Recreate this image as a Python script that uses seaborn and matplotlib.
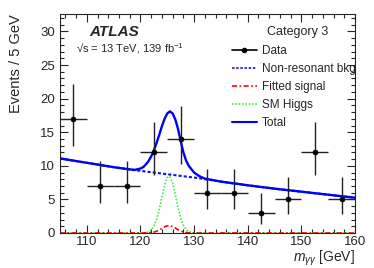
import numpy as np
import pandas as pd
import seaborn as sns
import matplotlib
matplotlib.use("Agg")
import matplotlib.pyplot as plt
from matplotlib.ticker import MultipleLocator
from matplotlib.lines import Line2D

# data points (bin centres, counts, asymmetric Poisson errors)
bin_centres = [107.5, 112.5, 117.5, 122.5, 127.5, 132.5, 137.5, 142.5, 147.5, 152.5, 157.5]
counts = [17, 7, 7, 12, 14, 6, 6, 3, 5, 12, 5]
err_down = [4.10, 2.58, 2.58, 3.41, 3.70, 2.38, 2.38, 1.63, 2.16, 3.41, 2.16]
err_up = [5.18, 3.77, 3.77, 4.58, 4.83, 3.58, 3.58, 2.92, 3.38, 4.58, 3.38]

# fitted curves
mass = [105, 110, 115, 118, 119, 120, 120.5, 121, 121.5, 122, 122.5, 123, 123.5, 124, 124.5,
        125, 125.5, 126, 126.5, 127, 127.5, 128, 128.5, 129, 129.5, 130, 131, 132, 133, 135,
        140, 145, 150, 155, 160]
bkg = [11.1, 10.45, 9.8, 9.45, 9.35, 9.25, 9.2, 9.15, 9.1, 9.05, 9.0, 8.95, 8.9, 8.85, 8.8,
       8.75, 8.7, 8.65, 8.6, 8.55, 8.5, 8.45, 8.4, 8.35, 8.3, 8.25, 8.15, 8.0, 7.9, 7.65,
       7.1, 6.6, 6.15, 5.7, 5.25]
fitted_signal = [0, 0, 0, 0, 0, 0, 0, 0.01, 0.02, 0.06, 0.13, 0.26, 0.45, 0.69, 0.92,
                 1.07, 1.09, 0.96, 0.74, 0.50, 0.29, 0.15, 0.07, 0.03, 0.01, 0, 0, 0, 0, 0,
                 0, 0, 0, 0, 0]
sm_higgs = [0, 0, 0, 0, 0, 0.01, 0.02, 0.05, 0.16, 0.43, 0.99, 1.99, 3.49, 5.35, 7.13,
            8.29, 8.41, 7.43, 5.73, 3.85, 2.25, 1.15, 0.51, 0.20, 0.07, 0.02, 0, 0, 0, 0,
            0, 0, 0, 0, 0]
total = [11.1, 10.45, 9.8, 9.47, 9.4, 9.6, 9.8, 10.2, 10.7, 11.4, 12.3, 13.4, 14.6, 15.9, 17.0,
         17.8, 18.1, 17.8, 16.9, 15.5, 13.7, 12.0, 10.8, 10.0, 9.5, 9.0, 8.45, 8.1, 7.95, 7.65,
         7.1, 6.6, 6.15, 5.7, 5.25]

df = pd.DataFrame({"mass": mass, "bkg": bkg, "signal": fitted_signal,
                   "higgs": sm_higgs, "total": total})

sns.set_style("ticks")
plt.rcParams["font.family"] = ["Liberation Sans", "DejaVu Sans"]
plt.rcParams["mathtext.fontset"] = "custom"
plt.rcParams["mathtext.it"] = "Liberation Sans:italic"
plt.rcParams["mathtext.rm"] = "Liberation Sans"

fig = plt.figure(figsize=(3.74, 2.68), dpi=100)
ax = fig.add_axes([0.1604, 0.1306, 0.7888, 0.8172])

sns.lineplot(data=df, x="mass", y="higgs", ax=ax, color="#44ee44", lw=1.2,
             linestyle=(0, (1, 1)))
sns.lineplot(data=df, x="mass", y="signal", ax=ax, color="red", lw=1.2,
             linestyle=(0, (3, 1.5, 1, 1.5)))
sns.lineplot(data=df, x="mass", y="bkg", ax=ax, color="#1010ee", lw=1.5,
             linestyle=(0, (1.5, 1)))
sns.lineplot(data=df, x="mass", y="total", ax=ax, color="#0000ff", lw=1.7)

ax.errorbar(bin_centres, counts, yerr=[err_down, err_up], xerr=2.5, fmt="none",
            ecolor="#222222", elinewidth=1.0, capsize=0)
sns.scatterplot(x=bin_centres, y=counts, ax=ax, color="black", s=14, marker="o",
                edgecolor="black", zorder=5)

ax.set_xlim(105, 160)
ax.set_ylim(0, 32.6)
ax.xaxis.set_major_locator(MultipleLocator(10))
ax.xaxis.set_minor_locator(MultipleLocator(2))
ax.yaxis.set_major_locator(MultipleLocator(5))
ax.yaxis.set_minor_locator(MultipleLocator(1))
ax.tick_params(which="both", direction="in", top=True, right=True, labelsize=9.5)
ax.tick_params(axis="x", pad=2)
ax.tick_params(which="major", length=6, width=0.8)
ax.tick_params(which="minor", length=3, width=0.8)
for s in ax.spines.values():
    s.set_linewidth(0.8)

ax.set_xlabel(r"$m_{\gamma\gamma}$ [GeV]", fontsize=10, ha="right", x=1.0)
ax.set_ylabel("Events / 5 GeV", fontsize=10.5, ha="right", y=1.0)
ax.xaxis.set_label_coords(1.0, -0.07)
ax.yaxis.set_label_coords(-0.125, 1.0)

ax.text(0.10, 0.92, "ATLAS", transform=ax.transAxes, fontsize=11,
        fontweight="bold", fontstyle="italic", va="center")
ax.text(0.053, 0.84, "√s = 13 TeV, 139 fb$^{-1}$", transform=ax.transAxes,
        fontsize=8, va="center")
ax.text(0.703, 0.92, "Category 3", transform=ax.transAxes, fontsize=9, va="center")

handles = [
    Line2D([], [], color="black", marker="o", markersize=3, lw=1.2),
    Line2D([], [], color="#1010ee", lw=1.2, linestyle=(0, (1.5, 1))),
    Line2D([], [], color="red", lw=1.2, linestyle=(0, (3, 1.5, 1, 1.5))),
    Line2D([], [], color="#44ee44", lw=1.2, linestyle=(0, (1, 1))),
    Line2D([], [], color="#0000ff", lw=1.5),
]
labels = ["Data", "Non-resonant bkg", "Fitted signal", "SM Higgs", "Total"]
ax.legend(handles, labels, loc="upper left", bbox_to_anchor=(0.555, 0.895),
          frameon=False, fontsize=8.5, handlelength=2.1, handletextpad=0.45,
          labelspacing=0.5, borderpad=0.2)

fig.savefig("out.png", dpi=100)
